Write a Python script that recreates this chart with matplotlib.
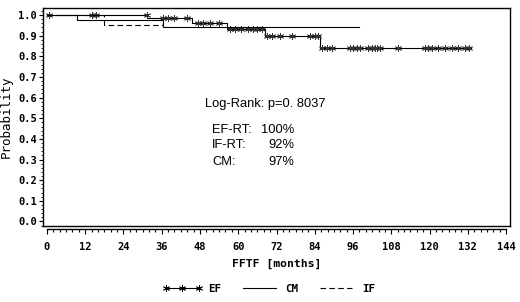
import numpy as np
import matplotlib
matplotlib.use("Agg")
import matplotlib.pyplot as plt
from matplotlib.ticker import MultipleLocator

# step curves (months, survival probability)
ef_times = [0, 31.5, 45.5, 56.5, 68.5, 85.6, 133]
ef_surv = [1.0, 0.985, 0.962, 0.933, 0.897, 0.839, 0.839]
cm_times = [0, 9.4, 36.4, 98]
cm_surv = [1.0, 0.974, 0.943, 0.943]
if_times = [0, 18, 36.4]
if_surv = [1.0, 0.953, 0.953]

# censored observations on EF curve (months)
ef_censor = [0.5, 14.2, 15.5, 31.4, 36.5, 38, 40, 44,
             47.5, 49, 51, 54,
             57.4, 59, 61, 63, 64.5, 66, 67.5,
             69, 70.6, 73, 77, 82.5, 84, 85,
             86.3, 87.8, 89.4, 95.1, 96, 97.3, 98.2, 100.7, 102, 102.9, 103.5,
             104.5, 110.1, 118.6, 119.5, 120.8, 122.7, 124.9, 127.1, 128.9,
             131.1, 132.5]

xticks = list(range(0, 145, 12))
yticks = np.round(np.arange(0, 1.01, 0.1), 1)

fig = plt.figure(figsize=(5.2, 3.02), dpi=100)
ax = fig.add_axes([43 / 520, 1 - 226 / 302, 467 / 520, 218 / 302])

lw = 0.8
star = (6, 2, 0)
ax.step(ef_times, ef_surv, where="post", color="k", lw=lw)
idx = np.searchsorted(ef_times, ef_censor, side="right") - 1
ax.plot(ef_censor, np.array(ef_surv)[idx], ls="none", marker=star,
        ms=5, mew=0.6, color="#333333")
ax.step(cm_times, cm_surv, where="post", color="k", lw=lw)
ax.step(if_times, if_surv, where="post", color="k", lw=lw, ls=(0, (5, 3)))

ax.set_xlim(-1.25, 145.25)
ax.set_ylim(-0.0218, 1.0339)

# frame bottom line, x axis drawn slightly below it
ax.plot([0, 1], [0, 0], transform=ax.transAxes, color="k", lw=1, clip_on=False)
ax.spines["bottom"].set_position(("outward", 2.5))
ax.spines["bottom"].set_bounds(0, 144)
for s in ax.spines.values():
    s.set_linewidth(1)

mono = dict(family="DejaVu Sans Mono", weight="bold", size=7.5)
ax.set_xticks(xticks)
ax.set_yticks(yticks)
ax.set_xticklabels([str(t) for t in xticks], fontdict=mono)
ax.set_yticklabels(["%.1f" % t for t in yticks], fontdict=mono)
ax.xaxis.set_minor_locator(MultipleLocator(2))
ax.yaxis.set_minor_locator(MultipleLocator(0.02))
ax.tick_params(axis="x", which="major", length=3.5, width=0.8, pad=5.5)
ax.tick_params(axis="x", which="minor", length=2.5, width=0.8)
ax.tick_params(axis="y", which="major", length=3, width=0.8, pad=1.5)
ax.tick_params(axis="y", which="minor", length=1.8, width=0.6)

ax.set_xlabel("FFTF [months]", family="DejaVu Sans Mono", weight="bold",
              size=8.2, labelpad=5)
ax.set_ylabel("Probability", family="DejaVu Sans Mono", size=9, labelpad=4)

txt = dict(family="Liberation Sans", size=9.3, va="center")
ax.text(49.6, 0.569, "Log-Rank: p=0. 8037", **txt)
ax.text(51.8, 0.443, "EF-RT:", **txt)
ax.text(51.8, 0.370, "IF-RT:", **txt)
ax.text(51.8, 0.288, "CM:", **txt)
ax.text(77.5, 0.443, "100%", ha="right", **txt)
ax.text(77.5, 0.370, "92%", ha="right", **txt)
ax.text(77.5, 0.288, "97%", ha="right", **txt)

h_ef, = ax.plot([], [], color="k", lw=lw, marker=star, ms=5, mew=0.6)
h_cm, = ax.plot([], [], color="k", lw=lw)
h_if, = ax.plot([], [], color="k", lw=lw, ls=(0, (5, 3)))
fig.legend([h_ef, h_cm, h_if], ["EF", "CM", "IF"], loc="center",
           bbox_to_anchor=(269 / 520, 1 - 289 / 302), ncol=3, frameon=False,
           numpoints=3, handlelength=3.6, columnspacing=1.7, handletextpad=0.6,
           prop=dict(family="DejaVu Sans Mono", weight="bold", size=7.8))

fig.savefig("out.png", dpi=100)
